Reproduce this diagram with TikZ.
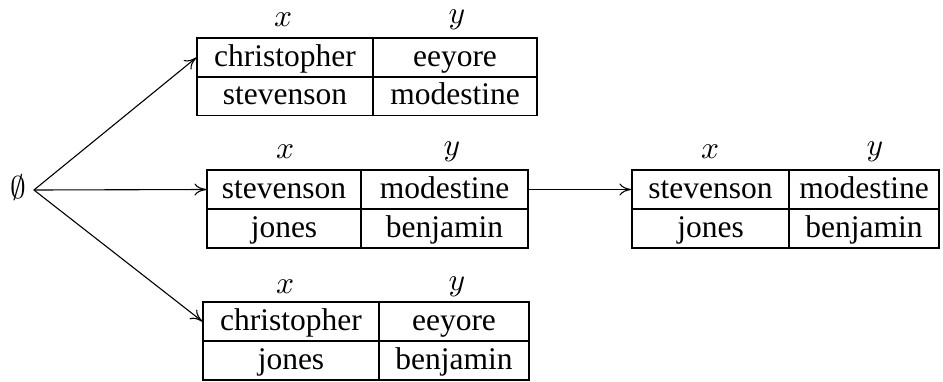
\documentclass[tikz,border=0pt]{standalone}
\usepackage{graphicx}
\usepackage{fontspec}
\setmainfont{Liberation Serif}
\usetikzlibrary{arrows.meta}
\newcommand{\bigmath}[1]{\scalebox{3.15}{$#1$}}
\begin{document}
\begin{tikzpicture}[x=1pt,y=-1pt,line width=1.1pt,
  cell/.style={draw, inner sep=0pt, minimum height=39pt, text height=24pt, text depth=7pt,
    font=\fontsize{31.5}{37}\selectfont},
  hdr/.style={inner sep=0pt, font=\fontsize{10}{12}\selectfont},
  conn/.style={-{To[length=12pt,width=12pt]}}]
\useasboundingbox (0,0) rectangle (943,381);
% empty set
\node[hdr, inner xsep=7pt, text height=20pt, text depth=3pt, anchor=base] (E) at (18.5,198.5) {\bigmath{\emptyset}};
% top table
\node[hdr] (Tx) at (283,20) {\bigmath{x}};
\node[hdr] (Ty) at (457,20) {\bigmath{y}};
\node[cell, minimum width=176pt] (T11) at (285,57.5) {christopher};
\node[cell, minimum width=164pt] (T12) at (455,57.5) {eeyore};
\node[cell, minimum width=176pt] (T21) at (285,96) {stevenson};
\node[cell, minimum width=164pt] (T22) at (455,96) {modestine};
% middle table
\node[hdr] (Mx) at (285,152) {\bigmath{x}};
\node[hdr] (My) at (452,152) {\bigmath{y}};
\node[cell, minimum width=154pt] (M11) at (284,189.5) {stevenson};
\node[cell, minimum width=167pt] (M12) at (444.5,189.5) {modestine};
\node[cell, minimum width=154pt] (M21) at (284,228.5) {jones};
\node[cell, minimum width=167pt] (M22) at (444.5,228.5) {benjamin};
% right table
\node[hdr] (Rx) at (710,152) {\bigmath{x}};
\node[hdr] (Ry) at (875,152) {\bigmath{y}};
\node[cell, minimum width=157pt] (R11) at (710.5,189.5) {stevenson};
\node[cell, minimum width=150pt] (R12) at (864,189.5) {modestine};
\node[cell, minimum width=157pt] (R21) at (710.5,228.5) {jones};
\node[cell, minimum width=150pt] (R22) at (864,228.5) {benjamin};
% bottom table
\node[hdr] (Bx) at (285,287) {\bigmath{x}};
\node[hdr] (By) at (457,287) {\bigmath{y}};
\node[cell, minimum width=176pt] (B11) at (291,321.5) {christopher};
\node[cell, minimum width=150pt] (B12) at (454,321.5) {eeyore};
\node[cell, minimum width=176pt] (B21) at (291,360.5) {jones};
\node[cell, minimum width=150pt] (B22) at (454,360.5) {benjamin};
% connectors
\draw[conn] (E.east) -- (T11.west);
\draw[conn] (E.east) -- (M11.west);
\draw[conn] (E.east) -- (B11.west);
\draw[conn] (M12.east) -- (R11.west);
\end{tikzpicture}
\end{document}
